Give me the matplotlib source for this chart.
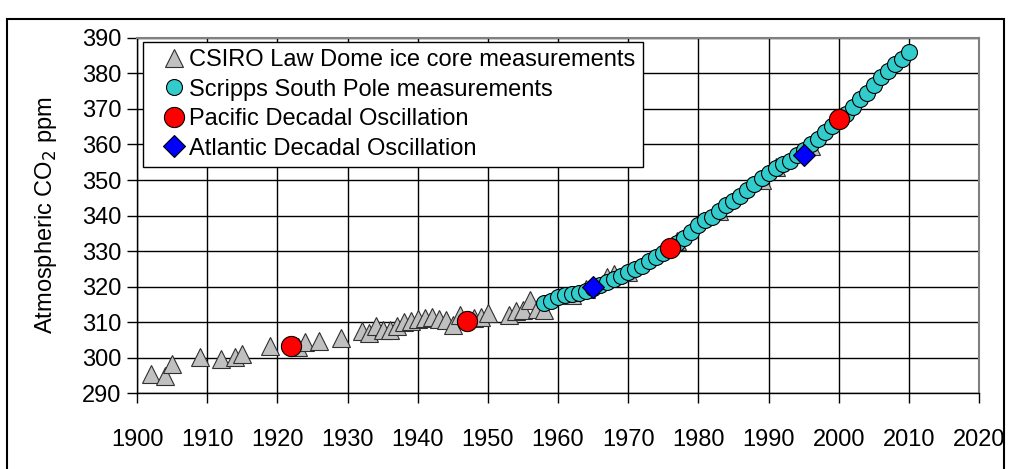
import numpy as np
import matplotlib.pyplot as plt
from matplotlib.patches import Rectangle

plt.rcParams['font.family'] = ['Liberation Sans', 'DejaVu Sans']

# CSIRO Law Dome ice core measurements
law_years = [1902, 1904, 1905, 1909, 1912, 1914, 1915, 1919, 1923, 1924, 1926, 1929,
             1932, 1933, 1934, 1935, 1936, 1937, 1938, 1939, 1940, 1941, 1942, 1943,
             1944, 1945, 1946, 1948, 1949, 1950, 1953, 1954, 1955, 1956, 1957, 1958,
             1962, 1964, 1967, 1968, 1970, 1977, 1983, 1989, 1991, 1996]
law_co2 = [295.4, 294.9, 298.1, 300.2, 299.5, 300.2, 301.0, 303.3, 302.9, 304.5, 304.6, 305.6,
           307.5, 307.0, 309.0, 307.7, 307.7, 308.9, 309.9, 310.4, 310.8, 311.0, 311.5, 310.8,
           310.6, 309.2, 312.0, 311.0, 311.5, 312.4, 312.0, 313.2, 313.3, 316.3, 313.8, 313.5,
           317.5, 319.3, 322.8, 323.5, 324.2, 332.8, 341.2, 350.0, 353.6, 359.5]

# Scripps South Pole measurements
sp_years = list(range(1958, 2011))
sp_co2 = [315.3, 316.0, 317.0, 317.7, 317.9, 318.2, 318.6, 319.5, 320.5, 321.2,
          322.0, 323.0, 324.1, 325.0, 325.9, 327.2, 328.3, 329.4, 330.7, 332.2,
          333.8, 335.4, 337.2, 338.6, 339.7, 341.3, 343.0, 344.2, 345.6, 347.3,
          349.0, 350.6, 352.1, 353.5, 354.5, 355.4, 357.0, 358.5, 360.2, 361.6,
          363.6, 365.3, 367.0, 368.6, 370.6, 372.8, 374.6, 376.8, 379.0, 380.8,
          382.8, 384.1, 386.0]

# Pacific / Atlantic decadal oscillation shifts
pdo_years = [1922, 1947, 1976, 2000]
pdo_co2 = [303.2, 310.3, 330.9, 367.2]
ado_years = [1965, 1995]
ado_co2 = [320.0, 357.0]

fig = plt.figure(figsize=(10.09, 4.69), dpi=100)
ax = fig.add_axes([0.1358, 0.162, 0.8345, 0.757])

ax.plot(law_years, law_co2, '^', ms=13, mfc='#C0C0C0', mec='#303030', mew=0.8,
        label='CSIRO Law Dome ice core measurements', zorder=3)
ax.plot(sp_years, sp_co2, 'o', ms=11.5, mfc='#33CCCC', mec='black', mew=0.8,
        label='Scripps South Pole measurements', zorder=4)
ax.plot(pdo_years, pdo_co2, 'o', ms=14.5, mfc='#FF0000', mec='black', mew=0.8,
        label='Pacific Decadal Oscillation', zorder=5)
ax.plot(ado_years, ado_co2, 'D', ms=11, mfc='#0000FF', mec='black', mew=0.8,
        label='Atlantic Decadal Oscillation', zorder=5)

ax.set_xlim(1900, 2020)
ax.set_ylim(290, 390)
ax.set_xticks(np.arange(1900, 2021, 10))
ax.set_yticks(np.arange(290, 391, 10))
ax.grid(True, color='black', linewidth=1)
ax.set_axisbelow(True)
ax.tick_params(axis='both', labelsize=17, direction='out', length=7, width=1)
ax.tick_params(axis='x', pad=19)
ax.tick_params(axis='y', pad=4)
for s in ['top', 'right']:
    ax.spines[s].set_color('#808080')
    ax.spines[s].set_linewidth(1.5)
for s in ['left', 'bottom']:
    ax.spines[s].set_color('black')
    ax.spines[s].set_linewidth(1)

ax.set_ylabel('Atmospheric CO$_2$ ppm', fontsize=17)
ax.yaxis.set_label_coords(-0.093, 0.5)

leg = ax.legend(loc='upper left', bbox_to_anchor=(0.007, 0.989), fontsize=17,
                frameon=True, fancybox=False, edgecolor='black', framealpha=1,
                borderpad=0.3, labelspacing=0.32, handletextpad=-0.34,
                handlelength=2.0, borderaxespad=0)
leg.get_frame().set_linewidth(1)

# outer chart border
fig.patches.append(Rectangle((7 / 1009, -0.05), 997 / 1009, 1.05 - 19 / 469,
                             transform=fig.transFigure, fill=False,
                             edgecolor='black', linewidth=1.5))

plt.savefig('out.png', dpi=100)
